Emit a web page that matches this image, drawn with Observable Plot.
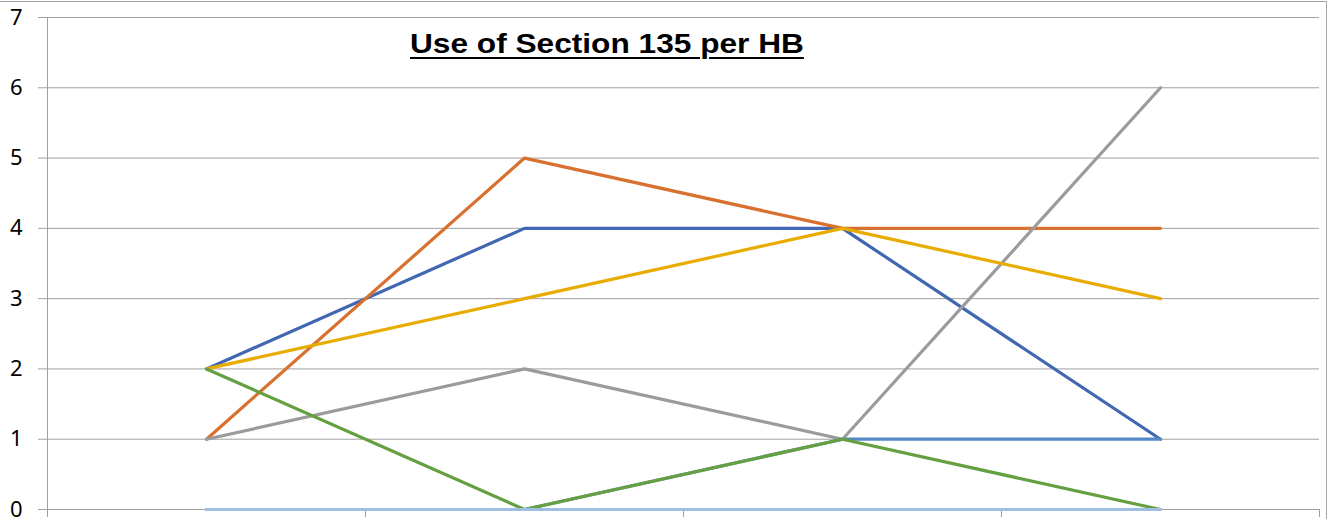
<!DOCTYPE html>
<html>
<head>
<meta charset="utf-8">
<script src="https://cdn.jsdelivr.net/npm/d3@7"></script>
<script src="https://cdn.jsdelivr.net/npm/@observablehq/plot@0.6"></script>
<style>
  html, body { margin: 0; padding: 0; background: #fff; }
  #wrap { position: relative; width: 1330px; height: 519px; overflow: hidden; }
  #frame { position: absolute; left: 0; top: 1px; width: 1327px; height: 600px; border-top: 1px solid #a6a6a6; border-right: 1px solid #a6a6a6; box-sizing: border-box; pointer-events: none; }
  #title { position: absolute; left: 410px; top: 28px; font-family: "Liberation Sans", Arial, sans-serif; font-weight: bold; font-size: 28px; text-decoration: underline; text-decoration-thickness: 2px; text-underline-offset: 4px; color: #000; white-space: nowrap; transform-origin: left top; transform: scaleX(1.13); }
</style>
</head>
<body>
<div id="wrap">
  <div id="chart"></div>
  <div id="frame"></div>
  <div id="title">Use of Section 135 per HB</div>
</div>
<script>
const categories = ["1", "2", "3", "4"];
const yTicks = [0, 1, 2, 3, 4, 5, 6, 7];
const seriesNames = ["S1", "S2", "S3", "S4", "S5", "S6", "S7"];
const seriesColors = ["#4167B2", "#D8702F", "#9B9B9B", "#E8AC00", "#5589C6", "#65A040", "#9EBEE4"];
const s1 = [2, 4, 4, 1];
const s2 = [1, 5, 4, 4];
const s3 = [1, 2, 1, 6];
const s4 = [2, 3, 4, 3];
const s5 = [0, 0, 1, 1];
const s6 = [2, 0, 1, 0];
const s7 = [0, 0, 0, 0];
const seriesValues = [s1, s2, s3, s4, s5, s6, s7];

const rows = [];
seriesValues.forEach((vals, si) => {
  vals.forEach((v, ci) => rows.push({series: seriesNames[si], idx: ci + 1, cat: categories[ci], value: v}));
});
const edges = d3.range(categories.length + 1).map(i => i + 0.5);

const plot = Plot.plot({
  width: 1330,
  height: 519,
  marginLeft: 47,
  marginRight: 11,
  marginTop: 17,
  marginBottom: 10,
  style: {fontFamily: "'Noto Sans', sans-serif", background: "transparent"},
  x: {domain: [0.5, categories.length + 0.5], axis: null},
  y: {domain: [0, 7], axis: null},
  color: {domain: seriesNames, range: seriesColors},
  marks: [
    Plot.gridY(yTicks, {stroke: "#a0a0a0", strokeOpacity: 1, strokeWidth: 1}),
    Plot.axisY(yTicks, {tickSize: 9, tickPadding: 16, stroke: "#a0a0a0", fill: "#000", fontSize: 22, tickFormat: d3.format("d"), label: null}),
    Plot.ruleX([0.5], {stroke: "#a0a0a0"}),
    Plot.axisX(edges, {tickSize: 8, tickFormat: () => "", stroke: "#a0a0a0", anchor: "bottom", label: null}),
    ...seriesNames.map((name, i) =>
      Plot.line(rows.filter(r => r.series === name), {x: "idx", y: "value", stroke: seriesColors[i], strokeWidth: 3.2, strokeLinejoin: "round", strokeLinecap: "round"})
    )
  ]
});
document.getElementById("chart").appendChild(plot);
</script>
</body>
</html>
